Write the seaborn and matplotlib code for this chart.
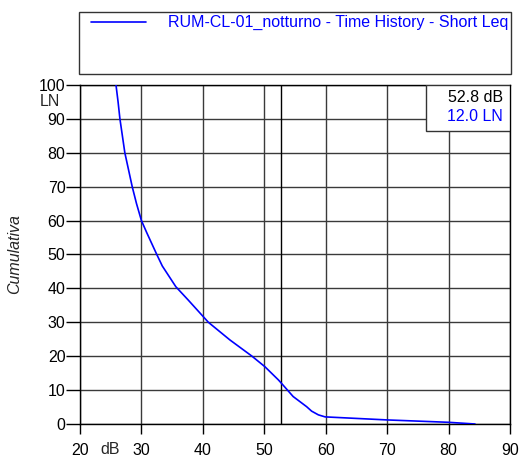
import matplotlib
matplotlib.use("Agg")
import matplotlib.pyplot as plt
import seaborn as sns
import pandas as pd
from matplotlib.patches import Rectangle

# Data
levels_db = [25.86, 26.2, 26.5, 26.9, 27.3, 27.9, 28.5, 29.2, 30.0, 30.9, 32.5,
             33.4, 35.6, 37.6, 40.9, 44.4, 48.0, 50.1, 52.3, 52.8, 54.7, 56.9,
             57.7, 58.8, 59.9, 70.0, 80.0, 84.3]
cumulative = [100, 95, 90, 85, 80, 75, 70, 65, 60, 56.3, 50,
              46.6, 40.5, 36.6, 30, 24.8, 20, 16.9, 13.0, 12.0, 8.1, 5.1,
              3.8, 2.7, 2.1, 1.2, 0.5, 0.0]
series_name = "RUM-CL-01_notturno - Time History - Short Leq"
marker_db = 52.8
marker_ln = 12.0
x_ticks = [20, 30, 40, 50, 60, 70, 80, 90]
y_ticks = [0, 10, 20, 30, 40, 50, 60, 70, 80, 90, 100]

sns.set_theme(style="white")
plt.rcParams['font.family'] = ['Liberation Sans', 'DejaVu Sans']
FS = 11.5

fig = plt.figure(figsize=(5.25, 4.61), dpi=100)
ax = fig.add_axes([80/525, 1-424/461, 430/525, 339/461])

df = pd.DataFrame({"dB": levels_db, "LN": cumulative})
grid_c = "#3a3a3a"
for xv in x_ticks:
    ax.axvline(xv, color=grid_c, lw=1.0, zorder=1)
for yv in y_ticks:
    ax.axhline(yv, color=grid_c, lw=1.0, zorder=1)
ax.axvline(marker_db, color="black", lw=1.0, zorder=1)

sns.lineplot(data=df, x="dB", y="LN", sort=False, estimator=None,
             color="#0000ff", lw=1.2, ax=ax, zorder=3)

ax.set_xlim(20, 90)
ax.set_ylim(0, 100)
ax.set_xticks(x_ticks)
ax.set_yticks(y_ticks)
ax.set_xticklabels([str(v) for v in x_ticks], fontsize=FS)
ax.set_yticklabels([str(v) for v in y_ticks], fontsize=FS)
ax.tick_params(axis='x', direction='out', length=7, width=1, color='black',
               pad=6.5, bottom=True, labelcolor='black')
ax.tick_params(axis='y', direction='out', length=10, width=1, color='black',
               pad=0.5, left=True, labelcolor='black')
ax.set_xlabel("")
ax.set_ylabel("Cumulativa", fontsize=FS, style='italic', labelpad=12)
for s in ax.spines.values():
    s.set_color("black")
    s.set_linewidth(1.0)

# unit labels
ax.text((60-80)/430, (424-101)/339, "LN", transform=ax.transAxes, ha='right',
        va='center', fontsize=FS)
ax.text((110-80)/430, -(449-424)/339, "dB", transform=ax.transAxes, ha='center',
        va='center', fontsize=FS)

# value box in the top right
bx0 = (426-80)/430
by0 = (424-131)/339
ax.add_patch(Rectangle((bx0, by0), 1-bx0, 1-by0, transform=ax.transAxes,
                       facecolor='white', edgecolor='#333333', lw=1.0, zorder=5))
ax.text(0.984, 0.963, f"{marker_db:.1f} dB", transform=ax.transAxes, ha='right',
        va='center', fontsize=FS, color='black', zorder=6)
ax.text(0.984, 0.907, f"{marker_ln:.1f} LN", transform=ax.transAxes, ha='right',
        va='center', fontsize=FS, color='#0000ff', zorder=6)

# legend box
lx0, lx1 = 79/525, 511/525
ly0, ly1 = 1-74/461, 1-12/461
rect = Rectangle((lx0, ly0), lx1-lx0, ly1-ly0, transform=fig.transFigure,
                 facecolor='white', edgecolor='#333333', lw=1.0)
fig.patches.append(rect)
ly = 1-22/461
fig.add_artist(plt.Line2D([91/525, 146/525], [ly, ly], color='#0000ff', lw=1.2,
                          transform=fig.transFigure))
t = fig.text(168/525, ly, series_name, ha='left', va='center', fontsize=FS,
             color='#0000ff')
t.set_clip_path(rect)

fig.savefig("out.png", dpi=100, facecolor='white')
